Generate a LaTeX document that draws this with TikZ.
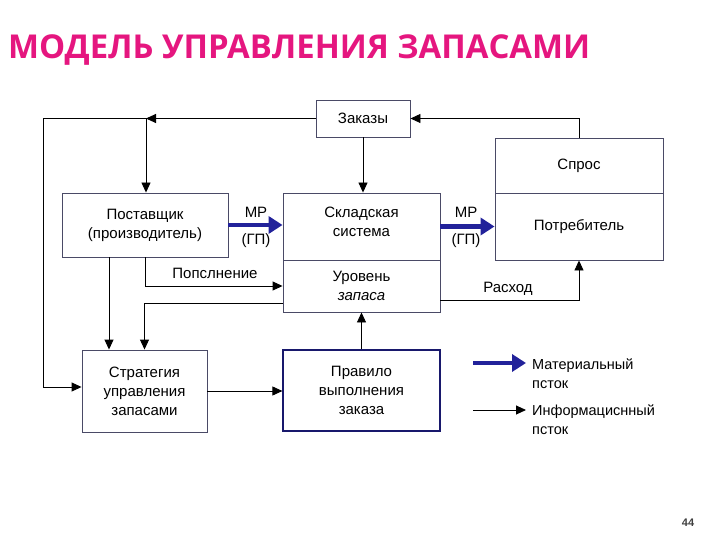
\documentclass[tikz,border=0pt]{standalone}
\usepackage{fontspec}
\setmainfont{Liberation Sans}
\newfontfamily\titlefont{Open Sans}
\usetikzlibrary{arrows.meta}
\definecolor{titlepink}{HTML}{E5167F}
\definecolor{boxline}{HTML}{4A4A66}
\definecolor{matblue}{HTML}{22229A}
\tikzset{
  box/.style={draw=boxline, line width=0.9pt, fill=white, align=center, inner sep=2pt, font=\fontsize{15}{19}\selectfont},
  info/.style={draw=black, line width=0.9pt, -{Triangle[length=10pt,width=9pt]}},
  infoline/.style={draw=black, line width=0.9pt},
  mat/.style={draw=matblue, line width=4.5pt, -{Triangle[length=14pt,width=17pt]}},
  lbl/.style={font=\fontsize{15}{19}\selectfont, inner sep=0pt, align=left}
}
\begin{document}
\begin{tikzpicture}[x=1pt,y=-1pt]
\useasboundingbox (0,0) rectangle (720,540);
% title
\node[anchor=west, inner sep=0pt, text=titlepink] (title) at (8,50)
  {\resizebox{582pt}{!}{\titlefont\bfseries МОДЕЛЬ УПРАВЛЕНИЯ ЗАПАСАМИ}};
% boxes
\node[box, minimum width=94pt, minimum height=37pt] (zak) at (363,118.5) {Заказы};
\node[box, minimum width=166pt, minimum height=64pt] (post) at (145,225) {Поставщик\\(производитель)};
\node[box, minimum width=157pt, minimum height=67pt] (sklad) at (361.5,226.5) {};
\node[lbl, align=center] (skladtxt) at (361.5,222) {Складская\\система};
\node[box, minimum width=157pt, minimum height=52pt] (ur) at (361.5,286) {Уровень\\\textit{запаса}};
\node[box, minimum width=168pt, minimum height=55pt] (spros) at (579,165.5) {Спрос};
\node[box, minimum width=168pt, minimum height=67pt] (potr) at (579,226.5) {Потребитель};
\node[box, minimum width=125pt, minimum height=82pt] (strat) at (144.5,391) {Стратегия\\управления\\запасами};
\node[box, draw=matblue!70!black, line width=1.2pt, minimum width=157pt, minimum height=81pt] (prav) at (361.5,390.5) {Правило\\выполнения\\заказа};
% coordinates
\coordinate (j1) at (146,118.5);
\coordinate (tl) at (43,118.5);
\coordinate (bl) at (43,387);
% information connectors
\draw[info] (zak.west) -- (j1);
\draw[infoline] (j1) -- (tl) -- (bl);
\draw[info] (bl) -- (bl -| strat.west);
\draw[info] (j1) -- (j1 |- post.north);
\draw[info] (zak.south) -- (zak.south |- sklad.north);
\draw[info] (spros.north) |- (zak.east);
\draw[info] (post.south) |- (ur.west);
\draw[info] ([xshift=-36pt]post.south) -- ([xshift=-36pt]post.south |- strat.north);
\draw[info] ([yshift=-17pt]ur.west) -| (strat.north);
\draw[info] ([yshift=-14pt]ur.east) -| (potr.south);
\draw[info] (strat.east) -- (strat.east -| prav.west);
\draw[info] (prav.north) -- (prav.north |- ur.south);
% material flows
\draw[mat] (post.east) -- (post.east -| sklad.west);
\draw[mat] (sklad.east) -- (potr.west);
% labels
\node[lbl] (mr1) at (256,212) {МР};
\node[lbl] (gp1) at (256,241) {(ГП)};
\node[lbl] (mr2) at (466,212) {МР};
\node[lbl] (gp2) at (466,241) {(ГП)};
\node[lbl] (pop) at (215,273) {Попслнение};
\node[lbl] (rash) at (508,289) {Расход};
% legend
\coordinate (lm1) at (473,363);
\coordinate (lm2) at (526,363);
\coordinate (li1) at (473,410);
\coordinate (li2) at (526,410);
\draw[mat] (lm1) -- (lm2);
\draw[info] (li1) -- (li2);
\node[lbl, anchor=north west, font=\fontsize{14.5}{19}\selectfont] (lmt) at (532,359) {Материальный\\псток};
\node[lbl, anchor=north west, font=\fontsize{14.5}{19}\selectfont] (lit) at (532,405) {Информациснный\\псток};
% page number
\node[inner sep=0pt, text=black!75, font=\fontsize{11}{13}\selectfont\bfseries] (pg) at (688,523) {44};
\end{tikzpicture}
\end{document}
